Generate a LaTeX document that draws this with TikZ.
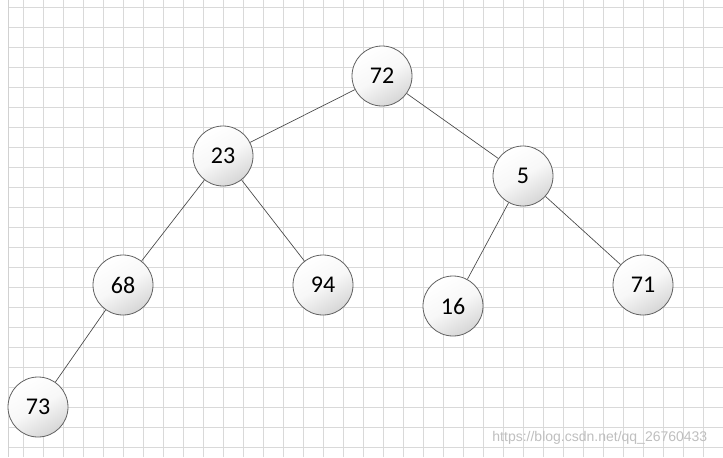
\documentclass[tikz,border=0pt]{standalone}
\usepackage{fontspec}
\setmainfont{Carlito}
\newfontfamily\markfont{Liberation Sans}

\begin{document}
\begin{tikzpicture}[x=0.75pt, y=-0.75pt]

\tikzset{
  key/.style={
    circle,
    draw=black!62,
    line width=0.6pt,
    minimum size=45pt,
    inner sep=0pt,
    shading=axis,
    top color=white,
    bottom color=black!16,
    middle color=black!3,
    shading angle=30,
    font=\fontsize{18}{21}\selectfont
  },
  link/.style={
    draw=black!72,
    line width=0.5pt
  },
  paper/.style={
    draw=black!15,
    line width=0.6pt
  }
}

\useasboundingbox (0,0) rectangle (723,457);
\fill[white] (0,0) rectangle (723,457);

% grid paper behind the tree
\foreach \gx in {23.3,43.3,...,723} {
  \draw[paper] (\gx,0) -- (\gx,457);
}
\foreach \gy in {7,27,...,457} {
  \draw[paper] (8,\gy) -- (723,\gy);
}
\draw[black!18, line width=1.4pt] (8.5,0) -- (8.5,457);

\node[key] (n72) at (382,76)  {72};
\node[key] (n23) at (223,156) {23};
\node[key] (n5)  at (523,176) {5};
\node[key] (n68) at (123,285) {68};
\node[key] (n94) at (323,285) {94};
\node[key] (n16) at (453,306) {16};
\node[key] (n71) at (643,285) {71};
\node[key] (n73) at (38,407)  {73};

\draw[link] (n72) -- (n23);
\draw[link] (n72) -- (n5);
\draw[link] (n23) -- (n68);
\draw[link] (n23) -- (n94);
\draw[link] (n5) -- (n16);
\draw[link] (n5) -- (n71);
\draw[link] (n68) -- (n73);

\node[font=\markfont\fontsize{10.5}{12}\selectfont, text=black!25, anchor=east] (mark) at (712,438) {https://blog.csdn.net/qq\_26760433};

\end{tikzpicture}
\end{document}
